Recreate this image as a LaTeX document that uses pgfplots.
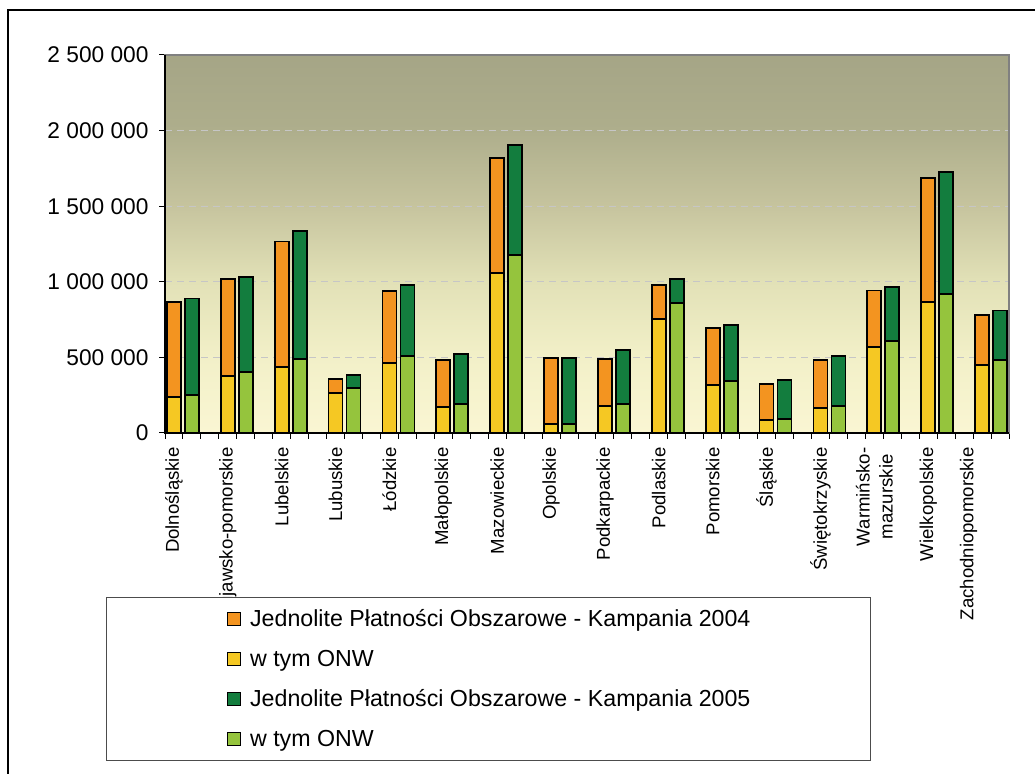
\documentclass[border=0pt]{standalone}
\usepackage{pgfplots}
\pgfplotsset{compat=1.18}
\usepackage{pgfplotstable}
\usepackage{fontspec}
\setmainfont{Liberation Sans}

\definecolor{cOrange}{RGB}{243,148,32}
\definecolor{cYellow}{RGB}{245,200,35}
\definecolor{cDGreen}{RGB}{19,125,62}
\definecolor{cLGreen}{RGB}{149,196,61}
\definecolor{bg0}{RGB}{250,246,211}
\definecolor{bg1}{RGB}{242,240,200}
\definecolor{bg2}{RGB}{226,225,183}
\definecolor{bg3}{RGB}{198,196,158}
\definecolor{bg4}{RGB}{174,174,140}
\definecolor{bg5}{RGB}{165,165,134}
\pgfdeclareverticalshading{plotbg}{100bp}{color(0bp)=(bg0); color(25bp)=(bg0); color(35bp)=(bg1); color(45bp)=(bg2); color(55bp)=(bg3); color(65bp)=(bg4); color(75bp)=(bg5); color(100bp)=(bg5)}

% x04 = position of 2004 bar, x05 = position of 2005 bar
\pgfplotstableread{
x04 x05 tot04 onw04 tot05 onw05
0  1  866000 236000 889000 251000
3  4  1021000 379000 1032000 401000
6  7  1266000 439000 1334000 489000
9  10 355000 262000 386000 296000
12 13 937000 461000 981000 509000
15 16 485000 170000 525000 190000
18 19 1819000 1056000 1907000 1177000
21 22 496000 57000 498000 62000
24 25 492000 176000 547000 194000
27 28 981000 752000 1021000 862000
30 31 695000 315000 712000 346000
33 34 324000 84000 349000 95000
36 37 481000 163000 507000 176000
39 40 942000 567000 968000 608000
42 43 1689000 866000 1724000 917000
45 46 783000 452000 810000 483000
}\datatable

\pgfplotsset{
  sqleg/.style={legend image code/.code={\draw[##1, line width=1.5pt] (0pt,-6.5pt) rectangle (13pt,6.5pt);}},
}

\begin{document}
\begin{tikzpicture}[x=1pt,y=1pt]
\useasboundingbox (0,0) rectangle (1035,773);
\draw[line width=1.2pt] (8,-10) -- (8,763) -- (1045,763);
\begin{axis}[
  at={(165pt,340pt)}, anchor=south west,
  scale only axis, width=844pt, height=378pt,
  xmin=-0.5, xmax=46.5, ymin=0, ymax=2500000,
  clip=false,
  scaled y ticks=false,
  ybar, bar width=14pt,
  axis background/.style={shading=plotbg},
  axis line style={draw=gray, line width=1.5pt},
  tick pos=left, tick align=outside,
  major tick length=6pt,
  tick style={black, line width=1pt},
  xtick={-0.5,0.5,...,46.5}, xticklabels={},
  extra x ticks={0,3,6,9,12,15,18,21,24,27,30,33,36,39,42,44.25},
  extra x tick labels={Dolnośląskie,Kujawsko-pomorskie,Lubelskie,Lubuskie,Łódzkie,Małopolskie,Mazowieckie,Opolskie,Podkarpackie,Podlaskie,Pomorskie,Śląskie,Świętokrzyskie,{Warmińsko-\\mazurskie},Wielkopolskie,Zachodniopomorskie},
  extra x tick style={major tick length=0pt, tick label style={rotate=90, anchor=east, align=center, xshift=-11pt, font=\fontsize{18.6}{23}\selectfont}},
  ytick={0,500000,1000000,1500000,2000000,2500000},
  yticklabels={0,500 000,1 000 000,1 500 000,2 000 000,2 500 000},
  yticklabel style={font=\fontsize{22.7}{26}\selectfont, xshift=-7pt},
  ymajorgrids,
  major grid style={draw=gray!45, line width=1pt, dash pattern=on 7pt off 5pt},
  every axis plot/.append style={draw=black, line width=1.8pt, bar shift=0pt, sqleg},
  legend style={at={(axis description cs:-0.0699,-0.4339)}, anchor=north west,
    draw=black!70, line width=1.2pt, fill=white, inner xsep=120pt, inner ysep=1.5pt,
    column sep=9pt, row sep=0pt,
    nodes={inner sep=0pt, minimum height=40pt},
    font=\fontsize{23.2}{26}\selectfont},
  legend cell align=left,
]
\addplot[fill=cOrange] table[x=x04, y=tot04] {\datatable};
\addlegendentry{Jednolite Płatności Obszarowe - Kampania 2004}
\addplot[fill=cYellow] table[x=x04, y=onw04] {\datatable};
\addlegendentry{w tym ONW}
\addplot[fill=cDGreen] table[x=x05, y=tot05] {\datatable};
\addlegendentry{Jednolite Płatności Obszarowe - Kampania 2005}
\addplot[fill=cLGreen] table[x=x05, y=onw05] {\datatable};
\addlegendentry{w tym ONW}
\draw[black, line width=1.5pt] (rel axis cs:0,1) -- (rel axis cs:0,0) -- (rel axis cs:1,0);
\end{axis}
\end{tikzpicture}
\end{document}
